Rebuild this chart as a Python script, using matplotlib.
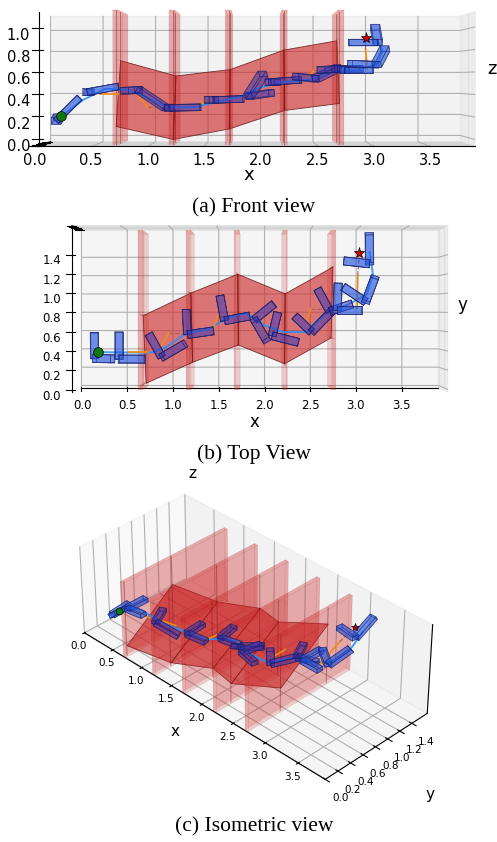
import numpy as np
import matplotlib
matplotlib.use("Agg")
import matplotlib.pyplot as plt
from mpl_toolkits.mplot3d.art3d import Poly3DCollection

# gates and corridor sheet
gate_x = [0.71, 1.21, 1.71, 2.21, 2.71]
sheet_ylow = [0.035, 0.26, 0.45, 0.25, 0.53]
sheet_yhigh = [0.77, 1.01, 1.21, 1.00, 1.28]
sheet_zlow = [0.12, 0.00, 0.09, 0.26, 0.32]
sheet_zhigh = [0.71, 0.57, 0.63, 0.81, 0.90]

# drone frames: corner, end of the first arm, end of the second arm (x, y, z)
frame_corner = [(0.16, 0.30, 0.16), (0.44, 0.30, 0.42), (0.90, 0.32, 0.44), (1.17, 0.56, 0.275),
                (1.57, 0.71, 0.345), (1.89, 0.72, 0.38), (2.08, 0.55, 0.51), (2.50, 0.59, 0.54),
                (2.69, 0.81, 0.63), (2.77, 0.82, 0.62), (3.07, 0.91, 0.67), (3.10, 1.31, 0.88)]
frame_arm_a = [(0.16, 0.58, 0.19), (0.44, 0.59, 0.42), (0.76, 0.57, 0.43), (1.155, 0.83, 0.275),
               (1.52, 0.98, 0.345), (2.10, 0.89, 0.41), (2.14, 0.80, 0.51), (2.32, 0.76, 0.56),
               (2.56, 1.05, 0.62), (2.78, 1.11, 0.62), (2.83, 1.07, 0.68), (3.09, 1.62, 1.03)]
frame_arm_b = [(0.37, 0.30, 0.37), (0.72, 0.30, 0.47), (1.14, 0.46, 0.275), (1.45, 0.60, 0.28),
               (1.84, 0.76, 0.355), (2.02, 0.50, 0.585), (2.36, 0.48, 0.53), (2.71, 0.81, 0.64),
               (2.93, 0.89, 0.63), (3.03, 0.82, 0.62), (3.16, 1.17, 0.82), (2.83, 1.34, 0.88)]
frame_in_corridor = [False, False, True, True, True, True, True, True, True, False, False, False]

# flown trajectory
traj_x = [0.20, 0.40, 0.60, 0.80, 0.95, 1.15, 1.40, 1.60, 1.80, 2.00, 2.20, 2.45, 2.65, 2.90, 3.08, 3.14, 3.10]
traj_y = [0.37, 0.37, 0.37, 0.37, 0.43, 0.57, 0.62, 0.74, 0.79, 0.66, 0.59, 0.59, 0.79, 0.89, 0.99, 1.20, 1.43]
traj_z = [0.20, 0.35, 0.45, 0.44, 0.38, 0.28, 0.28, 0.33, 0.37, 0.46, 0.51, 0.53, 0.60, 0.62, 0.68, 0.80, 0.90]

# reference pieces
orange_pieces = [[(0.55, 0.37, 0.40), (0.75, 0.37, 0.40)],
                 [(0.89, 0.44, 0.39), (0.97, 0.58, 0.28)],
                 [(1.44, 0.62, 0.30), (1.50, 0.76, 0.34)],
                 [(1.94, 0.64, 0.54), (2.00, 0.57, 0.50)],
                 [(2.44, 0.69, 0.56), (2.49, 0.84, 0.62)],
                 [(2.98, 0.84, 0.63), (2.98, 1.19, 0.82)]]
dash_pieces = [[(0.97, 0.58, 0.28), (1.20, 0.58, 0.28)],
               [(1.50, 0.76, 0.34), (1.62, 0.76, 0.34)],
               [(2.49, 0.84, 0.62), (2.72, 0.84, 0.62)],
               [(2.98, 1.19, 0.82), (2.99, 1.42, 0.92)]]

start_point = (0.20, 0.37, 0.20)
goal_point = (2.99, 1.42, 0.92)

x_ticks = [0.0, 0.5, 1.0, 1.5, 2.0, 2.5, 3.0, 3.5]
y_ticks = [0.0, 0.2, 0.4, 0.6, 0.8, 1.0, 1.2, 1.4]
z_ticks = [0.0, 0.2, 0.4, 0.6, 0.8, 1.0]
x_max, y_max = 3.9, 1.66
z_low, z_high = -0.06, 1.14
wall_bottom, wall_top, wall_depth = -0.05, 1.15, 1.65
captions = ["(a) Front view", "(b) Top View", "(c) Isometric view"]

FW, FH = 497, 842


def arm_faces(p, q, w=0.085, h=0.06):
    p, q = np.array(p, float), np.array(q, float)
    d = (q - p) / np.linalg.norm(q - p)
    up = np.array([0, 0, 1.0]) if abs(d[2]) < 0.9 else np.array([1.0, 0, 0])
    s = np.cross(d, up)
    s /= np.linalg.norm(s)
    t = np.cross(s, d)
    c = [s * w / 2 + t * h / 2, -s * w / 2 + t * h / 2, -s * w / 2 - t * h / 2, s * w / 2 - t * h / 2]
    a = [p + v for v in c]
    b = [q + v for v in c]
    faces = [a, b]
    for i in range(4):
        j = (i + 1) % 4
        faces.append([a[i], a[j], b[j], b[i]])
    return faces


def wall_faces(x, th=0.05):
    x0, x1 = x - th / 2, x + th / 2
    ys, zs = (0, wall_depth), (wall_bottom, wall_top)
    return [
        [(x0, ys[0], zs[0]), (x0, ys[1], zs[0]), (x0, ys[1], zs[1]), (x0, ys[0], zs[1])],
        [(x1, ys[0], zs[0]), (x1, ys[1], zs[0]), (x1, ys[1], zs[1]), (x1, ys[0], zs[1])],
        [(x0, ys[0], zs[0]), (x1, ys[0], zs[0]), (x1, ys[0], zs[1]), (x0, ys[0], zs[1])],
        [(x0, ys[1], zs[0]), (x1, ys[1], zs[0]), (x1, ys[1], zs[1]), (x0, ys[1], zs[1])],
        [(x0, ys[0], zs[1]), (x1, ys[0], zs[1]), (x1, ys[1], zs[1]), (x0, ys[1], zs[1])],
    ]


def draw(ax, tick_size, y_lim, z_lim, ms=7):
    ax.computed_zorder = False
    ax.set_xlim(0, x_max)
    ax.set_ylim(*y_lim)
    ax.set_zlim(*z_lim)
    ax.set_box_aspect((x_max, y_lim[1] - y_lim[0], z_high - z_low))
    ax.set_xticks(x_ticks)
    ax.set_yticks(y_ticks)
    ax.set_zticks(z_ticks)
    ax.tick_params(labelsize=tick_size, pad=0)
    ax.patch.set_alpha(0)
    for i in range(len(gate_x) - 1):
        quad = [(gate_x[i], sheet_ylow[i], sheet_zlow[i]),
                (gate_x[i + 1], sheet_ylow[i + 1], sheet_zlow[i + 1]),
                (gate_x[i + 1], sheet_yhigh[i + 1], sheet_zhigh[i + 1]),
                (gate_x[i], sheet_yhigh[i], sheet_zhigh[i])]
        sheet = Poly3DCollection([quad], facecolors=(0.8, 0.15, 0.15, 0.62),
                                 edgecolors=(0.35, 0.05, 0.05, 0.8), linewidths=0.6)
        sheet.set_zorder(1)
        ax.add_collection3d(sheet)
    for i, gx in enumerate(gate_x):
        wall = Poly3DCollection(wall_faces(gx), facecolors=(0.8, 0.15, 0.15, 0.2),
                                edgecolors=(0.5, 0.05, 0.05, 0.1), linewidths=0.3)
        wall.set_zorder(2)
        ax.add_collection3d(wall)
        for yv in (sheet_ylow[i], sheet_yhigh[i]):
            ax.plot([gx, gx], [yv, yv], [wall_bottom, wall_top], color="#7a1515", lw=0.7, alpha=0.45, zorder=3)
        for zv in (sheet_zlow[i], sheet_zhigh[i]):
            ax.plot([gx, gx], [sheet_ylow[i], sheet_yhigh[i]], [zv, zv], color="#7a1515", lw=0.5, alpha=0.15, zorder=3)
    ax.plot(traj_x, traj_y, traj_z, color="#1e8fff", lw=1.4, alpha=0.85, zorder=4)
    for piece in orange_pieces:
        xs, ys, zs = zip(*piece)
        ax.plot(xs, ys, zs, color="#f08c10", lw=1.2, zorder=4)
    for piece in dash_pieces:
        xs, ys, zs = zip(*piece)
        ax.plot(xs, ys, zs, color="#a06060", lw=0.8, ls="--", zorder=4)
    for c, a, b, inside in zip(frame_corner, frame_arm_a, frame_arm_b, frame_in_corridor):
        face = (0.2, 0.2, 0.72, 0.3) if inside else (0.16, 0.35, 0.88, 0.42)
        for end in (a, b):
            col = Poly3DCollection(arm_faces(c, end), facecolors=face,
                                   edgecolors=(0.1, 0.12, 0.4, 0.6), linewidths=0.5)
            col.set_zorder(5)
            ax.add_collection3d(col)
    ax.plot(*[[v] for v in start_point], "o", color="#0a7a10", mec="k", mew=0.5, ms=ms, zorder=8)
    ax.plot(*[[v] for v in goal_point], "*", color="#d00000", mec="k", mew=0.5, ms=ms + 1, zorder=8)


def make_axes(fig, cx, cy, size):
    # centre and side in pixels, measured from the top left of the figure
    return fig.add_axes([(cx - size / 2) / FW, 1 - (cy + size / 2) / FH, size / FW, size / FH],
                        projection="3d")


def place_axis(axis, index, value):
    # keep the axis line and its ticks on a chosen depth of the box
    original = axis._get_axis_line_edge_points

    def patched(minmax, maxmin, position=None):
        p0, p1 = original(minmax, maxmin, position)
        p0, p1 = np.array(p0, float), np.array(p1, float)
        p0[index] = value
        p1[index] = value
        return p0, p1

    axis._get_axis_line_edge_points = patched


def label(txt, px, py, size):
    fig.text(px / FW, 1 - py / FH, txt, ha="center", va="center", fontsize=size)


fig = plt.figure(figsize=(FW / 100, FH / 100), dpi=100)

ax1 = make_axes(fig, 249, 85, 465)
ax1.view_init(elev=0, azim=-90)
draw(ax1, 10.5, (0, y_max), (z_low, z_high))
ax1.set_yticklabels([])
ax1.zaxis.set_ticks_position("upper")
place_axis(ax1.zaxis, 1, 0.4)
ax1.yaxis._axinfo["grid"]["linewidth"] = 0.25
label("x", 249, 175, 13)
label("z", 492, 69, 13)

ax2 = make_axes(fig, 254.5, 314.5, 404)
ax2.view_init(elev=90, azim=-90)
draw(ax2, 8.5, (-0.03, 1.70), (z_low, z_high))
ax2.set_zticklabels([])
ax2.yaxis.set_ticks_position("lower")
place_axis(ax2.yaxis, 2, z_high)
ax2.tick_params(axis="x", pad=3)
ax2.zaxis._axinfo["grid"]["linewidth"] = 0.25
label("x", 254, 422, 12)
label("y", 462, 305, 12)

ax3 = make_axes(fig, 246, 634, 378)
ax3.view_init(elev=34.5, azim=-45)
draw(ax3, 7.5, (0, y_max), (z_low, 1.34), ms=5)
ax3.set_zticks([])
label("x", 175, 732, 11)
label("y", 430, 794, 11)
label("z", 192, 473, 11)

for txt, py in zip(captions, (208, 454, 827)):
    fig.text(254 / FW, 1 - py / FH, txt, ha="center", va="center",
             family="Liberation Serif", fontsize=15.5)

fig.savefig("out.png", dpi=100)
